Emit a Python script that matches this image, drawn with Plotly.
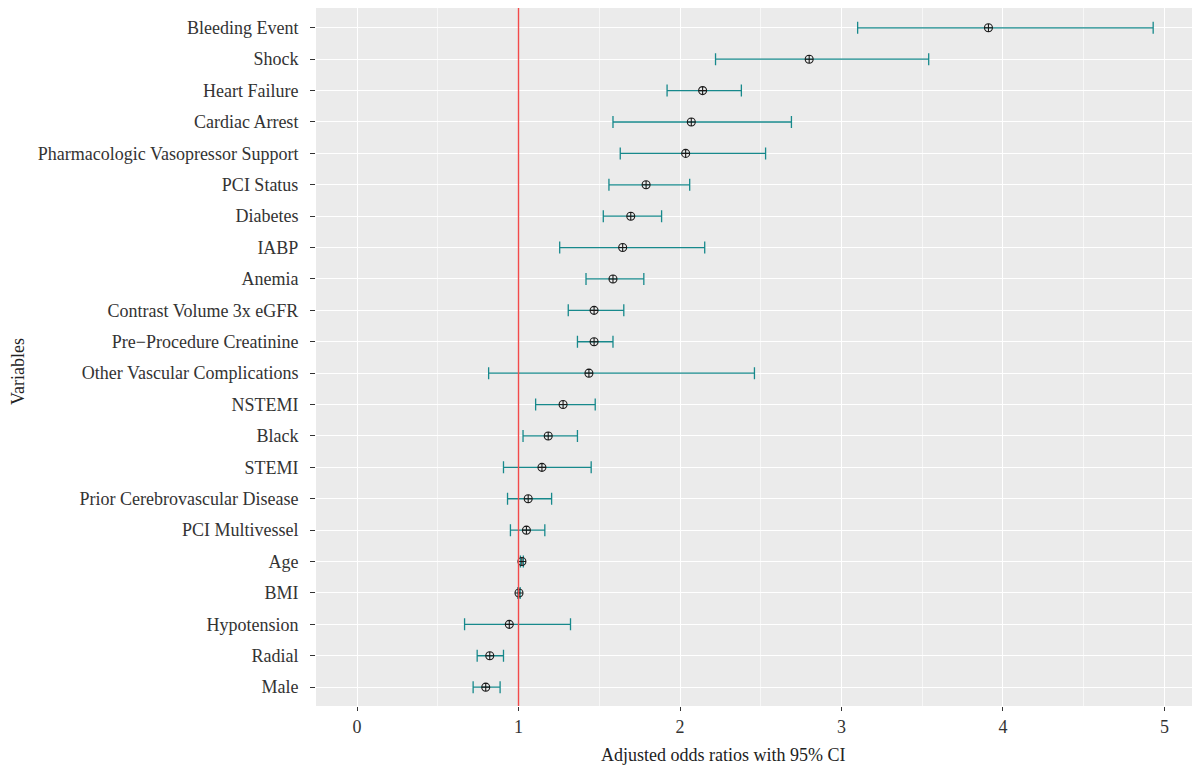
import plotly.graph_objects as go

variables = ["Bleeding Event", "Shock", "Heart Failure", "Cardiac Arrest",
             "Pharmacologic Vasopressor Support", "PCI Status", "Diabetes", "IABP",
             "Anemia", "Contrast Volume 3x eGFR", "Pre\u2212Procedure Creatinine",
             "Other Vascular Complications", "NSTEMI", "Black", "STEMI",
             "Prior Cerebrovascular Disease", "PCI Multivessel", "Age", "BMI",
             "Hypotension", "Radial", "Male"]
odds_ratio = [3.91, 2.80, 2.14, 2.07, 2.035, 1.79, 1.695, 1.645, 1.585, 1.468, 1.468,
              1.436, 1.276, 1.184, 1.145, 1.06, 1.049, 1.021, 1.003, 0.943, 0.822, 0.797]
ci_lower = [3.10, 2.22, 1.92, 1.585, 1.63, 1.56, 1.525, 1.255, 1.418, 1.308, 1.365,
            0.815, 1.106, 1.028, 0.907, 0.932, 0.95, 1.012, 0.996, 0.666, 0.744, 0.719]
ci_upper = [4.93, 3.54, 2.38, 2.69, 2.53, 2.06, 1.886, 2.153, 1.776, 1.652, 1.585,
            2.461, 1.475, 1.365, 1.45, 1.205, 1.163, 1.030, 1.010, 1.322, 0.907, 0.886]
x_ticks = [0, 1, 2, 3, 4, 5]
reference_value = 1
x_title = "Adjusted odds ratios with 95% CI"
y_title = "Variables"

teal = "#17898c"
font_family = "Liberation Serif, Times New Roman, serif"

# page body has an 8px margin, so the figure is laid out 8px smaller
OFF = 8
W, H = 1200 - OFF, 766 - OFF
L, R, T, B = 316 - OFF, 0, 8 - OFF, 60
pw, ph = W - L - R, H - T - B

fig = go.Figure()

fig.add_trace(go.Scatter(
    x=odds_ratio, y=variables, mode="markers",
    marker=dict(symbol="circle-cross-open", size=8, color="#1a1a1a",
                line=dict(width=1.1, color="#1a1a1a")),
    error_x=dict(type="data", symmetric=False,
                 array=[u - o for u, o in zip(ci_upper, odds_ratio)],
                 arrayminus=[o - l for o, l in zip(odds_ratio, ci_lower)],
                 color=teal, thickness=1.3, width=6),
    showlegend=False, hoverinfo="x+y",
))

fig.add_vline(x=reference_value, line=dict(color="#f24a4a", width=1.4), layer="above")

fig.add_annotation(text=x_title, xref="paper", yref="paper",
                   x=(723 - OFF - L) / pw, y=-(755 - OFF - (H - B)) / ph,
                   xanchor="center", yanchor="middle", showarrow=False,
                   font=dict(size=18, color="#222222"))
fig.add_annotation(text=y_title, xref="paper", yref="paper",
                   x=(18 - OFF - L) / pw, y=((H - B) - (372 - OFF)) / ph,
                   xanchor="center", yanchor="middle", showarrow=False, textangle=-90,
                   font=dict(size=18, color="#222222"))

fig.update_layout(
    width=W, height=H,
    margin=dict(l=L, r=R, t=T, b=B, autoexpand=False),
    paper_bgcolor="white", plot_bgcolor="#ebebeb",
    font=dict(family=font_family, size=18, color="#333333"),
    xaxis=dict(
        range=[-0.254, 5.22], tickvals=x_ticks, ticktext=[str(v) for v in x_ticks],
        showgrid=True, gridcolor="white", gridwidth=1.2,
        minor=dict(dtick=0.5, showgrid=True, gridcolor="#f7f7f7", gridwidth=0.6),
        ticks="outside", ticklen=4, tickcolor="#333333", tickwidth=1,
        zeroline=False, showline=False, automargin=False,
        tickfont=dict(size=18, color="#333333"), ticklabelstandoff=0,
    ),
    yaxis=dict(
        categoryorder="array", categoryarray=variables[::-1],
        range=[-0.6, 21.63],
        showgrid=True, gridcolor="white", gridwidth=1.2,
        ticks="outside", ticklen=5, tickcolor="#333333", tickwidth=1,
        zeroline=False, showline=False, automargin=False,
        tickfont=dict(size=18, color="#333333"), ticklabelstandoff=8,
    ),
)

fig.write_html("out.html")
